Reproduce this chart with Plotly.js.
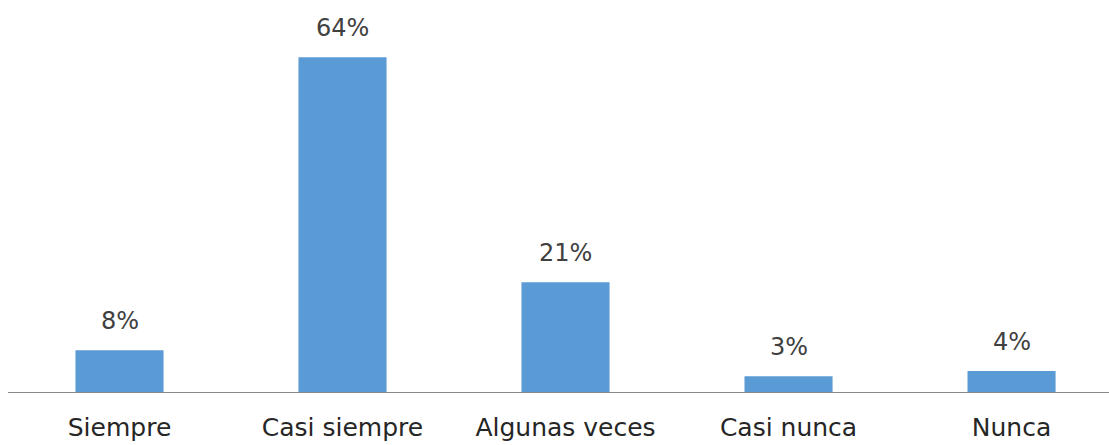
<!DOCTYPE html>
<html><head><meta charset="utf-8">
<script src="https://cdn.plot.ly/plotly-3.0.1.min.js"></script>
<style>html,body{margin:0;padding:0;background:#fff;}</style>
</head><body>
<div id="chart" style="width:1109px;height:445px;"></div>
<script>
const categories = ["Siempre", "Casi siempre", "Algunas veces", "Casi nunca", "Nunca"];
const values = [8, 64, 21, 3, 4];
const valueLabels = ["8%", "64%", "21%", "3%", "4%"];

const FONT = "DejaVu Sans, sans-serif";
const trace = {
  type: "bar", x: categories, y: values,
  marker: {color: "#5B9BD5"}, hoverinfo: "none"
};
const annotations = categories.map((c, i) => ({
  x: c, y: values[i], xref: "x", yref: "y", text: valueLabels[i],
  showarrow: false, yanchor: "bottom", yshift: 13,
  font: {family: FONT, size: 24, color: "#404040"}
}));
const layout = {
  width: 1109, height: 445,
  margin: {l: 8, r: 0, t: 0, b: 53},
  paper_bgcolor: "#fff", plot_bgcolor: "#fff",
  bargap: 0.605, showlegend: false,
  xaxis: {range: [-0.5, 4.437], showline: true, linecolor: "#898989", linewidth: 1,
    ticks: "", showgrid: false, zeroline: false, ticklabelstandoff: 13,
    tickfont: {family: FONT, size: 25, color: "#262626"}},
  yaxis: {range: [0, 74.95], visible: false, showgrid: false, zeroline: false},
  annotations: annotations
};
Plotly.newPlot("chart", [trace], layout, {displayModeBar: false, staticPlot: true});
</script>
</body></html>
